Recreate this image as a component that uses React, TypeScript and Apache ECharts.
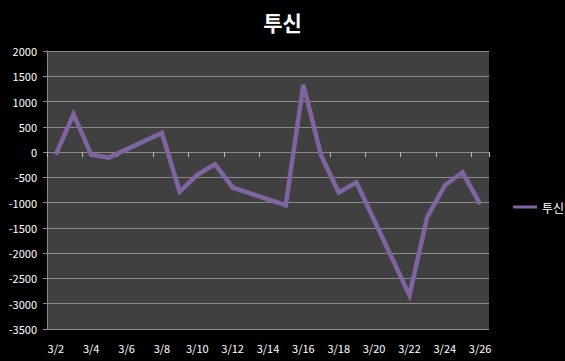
import React, { useEffect, useRef } from "react";
import * as echarts from "echarts";

const days = [
  "3/2", "3/3", "3/4", "3/5", "3/6", "3/7", "3/8", "3/9", "3/10", "3/11", "3/12", "3/13", "3/14",
  "3/15", "3/16", "3/17", "3/18", "3/19", "3/20", "3/21", "3/22", "3/23", "3/24", "3/25", "3/26",
];
const values: (number | null)[] = [
  -50, 750, -50, -110, null, null, 380, -780, -450, -240, -700, null, null,
  -1050, 1330, -60, -800, -600, null, null, -2830, -1290, -660, -400, -1030,
];
const seriesName = "투신";
const title = "투신";

const FONT = "'Noto Sans CJK KR', 'Noto Sans', sans-serif";
const GRID = "#8a8a8a";

export default function App() {
  const ref = useRef<HTMLDivElement>(null);
  useEffect(() => {
    document.body.style.margin = "0";
    const chart = echarts.init(ref.current!, null, { renderer: "svg" });
    chart.setOption({
      animation: false,
      backgroundColor: "#000",
      title: {
        text: title,
        left: "center",
        top: 6,
        textStyle: { color: "#fff", fontSize: 21, fontWeight: "bold", fontFamily: FONT },
      },
      legend: {
        data: [seriesName],
        orient: "vertical",
        left: 508,
        top: 196,
        icon: "rect",
        itemWidth: 24,
        itemHeight: 3,
        itemGap: 4,
        textStyle: { color: "#fff", fontSize: 12, fontFamily: FONT },
      },
      grid: {
        left: 47,
        right: 76,
        top: 51,
        bottom: 32,
        show: true,
        backgroundColor: "#404040",
        borderWidth: 0,
      },
      xAxis: [
        {
          type: "category",
          data: days,
          boundaryGap: true,
          axisLine: { show: false },
          axisTick: { show: false },
          splitLine: { show: false },
          axisLabel: {
            interval: 1,
            color: "#fff",
            fontSize: 11,
            fontFamily: FONT,
            margin: 13,
          },
        },
        {
          type: "category",
          data: days,
          boundaryGap: true,
          position: "bottom",
          axisLine: { show: true, onZero: true, onZeroAxisIndex: 0, lineStyle: { color: GRID, width: 1 } },
          axisTick: { show: true, interval: 1, length: 5, inside: false, lineStyle: { color: "#bbb" } },
          axisLabel: { show: false },
          splitLine: { show: false },
        },
      ],
      yAxis: {
        type: "value",
        min: -3500,
        max: 2000,
        interval: 500,
        axisLine: { show: true, lineStyle: { color: GRID } },
        axisTick: { show: true, length: 4, lineStyle: { color: GRID } },
        splitLine: { show: true, lineStyle: { color: GRID, width: 1 } },
        axisLabel: {
          color: "#fff",
          fontSize: 11,
          fontFamily: FONT,
          margin: 10,
          formatter: (v: number) => String(v),
        },
      },
      series: [
        {
          name: seriesName,
          type: "line",
          data: values,
          xAxisIndex: 0,
          symbol: "none",
          connectNulls: true,
          lineStyle: { color: "#8064A2", width: 4.5, join: "miter" },
          itemStyle: { color: "#8064A2" },
        },
      ],
    });
    return () => chart.dispose();
  }, []);
  return <div ref={ref} style={{ width: 565, height: 361 }} />;
}
